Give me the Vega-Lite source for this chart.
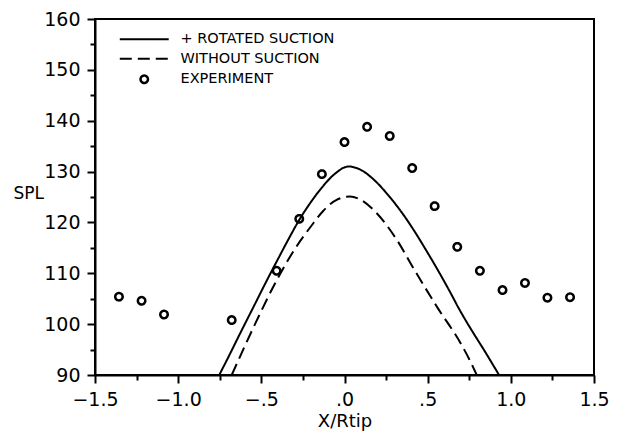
{
  "$schema": "https://vega.github.io/schema/vega-lite/v6.json",
  "width": 499,
  "height": 356,
  "autosize": {"type": "none"},
  "padding": {"left": 95, "top": 19, "right": 30, "bottom": 68},
  "background": "white",
  "config": {
    "font": "DejaVu Sans",
    "view": {"stroke": "black", "strokeWidth": 2},
    "axis": {
      "grid": false,
      "domainColor": "black",
      "domainWidth": 2,
      "tickColor": "black",
      "tickWidth": 2,
      "labelColor": "black",
      "labelFont": "DejaVu Sans",
      "labelFontSize": 19,
      "titleColor": "black",
      "titleFont": "DejaVu Sans",
      "titleFontWeight": "normal",
      "labelOverlap": false,
      "labelFlush": false,
      "labelBound": false
    }
  },
  "data": {
    "values": [
      {"series": "+ ROTATED SUCTION", "x": -0.753, "spl": 90},
      {"series": "+ ROTATED SUCTION", "x": -0.70, "spl": 93.4},
      {"series": "+ ROTATED SUCTION", "x": -0.618, "spl": 98.8},
      {"series": "+ ROTATED SUCTION", "x": -0.55, "spl": 103.2},
      {"series": "+ ROTATED SUCTION", "x": -0.47, "spl": 108.4},
      {"series": "+ ROTATED SUCTION", "x": -0.40, "spl": 112.8},
      {"series": "+ ROTATED SUCTION", "x": -0.34, "spl": 116.5},
      {"series": "+ ROTATED SUCTION", "x": -0.272, "spl": 120.5},
      {"series": "+ ROTATED SUCTION", "x": -0.20, "spl": 124.1},
      {"series": "+ ROTATED SUCTION", "x": -0.135, "spl": 126.9},
      {"series": "+ ROTATED SUCTION", "x": -0.06, "spl": 129.5},
      {"series": "+ ROTATED SUCTION", "x": 0.024, "spl": 131.0},
      {"series": "+ ROTATED SUCTION", "x": 0.10, "spl": 130.3},
      {"series": "+ ROTATED SUCTION", "x": 0.18, "spl": 128.3},
      {"series": "+ ROTATED SUCTION", "x": 0.272, "spl": 125.0},
      {"series": "+ ROTATED SUCTION", "x": 0.35, "spl": 121.7},
      {"series": "+ ROTATED SUCTION", "x": 0.418, "spl": 118.4},
      {"series": "+ ROTATED SUCTION", "x": 0.484, "spl": 114.9},
      {"series": "+ ROTATED SUCTION", "x": 0.558, "spl": 110.8},
      {"series": "+ ROTATED SUCTION", "x": 0.63, "spl": 106.6},
      {"series": "+ ROTATED SUCTION", "x": 0.699, "spl": 102.4},
      {"series": "+ ROTATED SUCTION", "x": 0.77, "spl": 98.5},
      {"series": "+ ROTATED SUCTION", "x": 0.839, "spl": 94.9},
      {"series": "+ ROTATED SUCTION", "x": 0.929, "spl": 90},
      {"series": "WITHOUT SUCTION", "x": -0.678, "spl": 90},
      {"series": "WITHOUT SUCTION", "x": -0.538, "spl": 100.0},
      {"series": "WITHOUT SUCTION", "x": -0.408, "spl": 108.6},
      {"series": "WITHOUT SUCTION", "x": -0.298, "spl": 114.8},
      {"series": "WITHOUT SUCTION", "x": -0.20, "spl": 119.3},
      {"series": "WITHOUT SUCTION", "x": -0.127, "spl": 122.3},
      {"series": "WITHOUT SUCTION", "x": -0.05, "spl": 124.4},
      {"series": "WITHOUT SUCTION", "x": 0.033, "spl": 125.1},
      {"series": "WITHOUT SUCTION", "x": 0.10, "spl": 124.4},
      {"series": "WITHOUT SUCTION", "x": 0.173, "spl": 122.5},
      {"series": "WITHOUT SUCTION", "x": 0.25, "spl": 119.6},
      {"series": "WITHOUT SUCTION", "x": 0.32, "spl": 116.3},
      {"series": "WITHOUT SUCTION", "x": 0.418, "spl": 110.8},
      {"series": "WITHOUT SUCTION", "x": 0.558, "spl": 103.3},
      {"series": "WITHOUT SUCTION", "x": 0.699, "spl": 96.2},
      {"series": "WITHOUT SUCTION", "x": 0.75, "spl": 93.1},
      {"series": "WITHOUT SUCTION", "x": 0.795, "spl": 90},
      {"series": "EXPERIMENT", "x": -1.356, "spl": 105.4},
      {"series": "EXPERIMENT", "x": -1.22, "spl": 104.6},
      {"series": "EXPERIMENT", "x": -1.085, "spl": 101.9},
      {"series": "EXPERIMENT", "x": -0.678, "spl": 100.8},
      {"series": "EXPERIMENT", "x": -0.408, "spl": 110.5},
      {"series": "EXPERIMENT", "x": -0.272, "spl": 120.7},
      {"series": "EXPERIMENT", "x": -0.136, "spl": 129.5},
      {"series": "EXPERIMENT", "x": 0.0, "spl": 135.8},
      {"series": "EXPERIMENT", "x": 0.136, "spl": 138.8},
      {"series": "EXPERIMENT", "x": 0.272, "spl": 137.0},
      {"series": "EXPERIMENT", "x": 0.407, "spl": 130.7},
      {"series": "EXPERIMENT", "x": 0.542, "spl": 123.2},
      {"series": "EXPERIMENT", "x": 0.678, "spl": 115.2},
      {"series": "EXPERIMENT", "x": 0.814, "spl": 110.5},
      {"series": "EXPERIMENT", "x": 0.95, "spl": 106.7},
      {"series": "EXPERIMENT", "x": 1.085, "spl": 108.1},
      {"series": "EXPERIMENT", "x": 1.22, "spl": 105.2},
      {"series": "EXPERIMENT", "x": 1.356, "spl": 105.3}
    ]
  },
  "encoding": {
    "x": {
      "field": "x", "type": "quantitative",
      "scale": {"domain": [-1.5, 1.5], "nice": false, "zero": false},
      "axis": {
        "title": "X/Rtip",
        "titleFontSize": 18,
        "titlePadding": 3,
        "values": [-1.5, -1.25, -1, -0.75, -0.5, -0.25, 0, 0.25, 0.5, 0.75, 1, 1.25, 1.5],
        "labelExpr": "abs(datum.value*2 - round(datum.value*2)) > 0.001 ? '' : (datum.value == 0 ? '.0' : (abs(datum.value) == 0.5 ? (datum.value < 0 ? '\u2212.5' : '.5') : format(datum.value, '.1f')))",
        "tickSize": {"condition": {"test": "abs(datum.value*2 - round(datum.value*2)) < 0.001", "value": 8}, "value": 5},
        "labelPadding": 7
      }
    },
    "y": {
      "field": "spl", "type": "quantitative",
      "scale": {"domain": [90, 160], "nice": false, "zero": false},
      "axis": {
        "title": "SPL",
        "titleFontSize": 17,
        "titleAngle": 0,
        "titleAlign": "left",
        "titleBaseline": "middle",
        "titleX": -82,
        "titleY": 174,
        "values": [90, 95, 100, 105, 110, 115, 120, 125, 130, 135, 140, 145, 150, 155, 160],
        "labelExpr": "datum.value % 10 == 0 ? format(datum.value, 'd') : ''",
        "tickSize": {"condition": {"test": "datum.value % 10 == 0", "value": 8}, "value": 5},
        "labelPadding": 7
      }
    },
    "strokeDash": {
      "field": "series", "type": "nominal",
      "scale": {
        "domain": ["+ ROTATED SUCTION", "WITHOUT SUCTION", "EXPERIMENT"],
        "range": [[1, 0], [12, 6], [1, 0]]
      },
      "legend": {
        "title": null,
        "orient": "none",
        "legendX": 42,
        "legendY": 13,
        "padding": 0,
        "symbolSize": 55,
        "symbolStrokeColor": "black",
        "symbolStrokeWidth": 2,
        "rowPadding": 4.5,
        "labelFont": "DejaVu Sans",
        "labelFontSize": 14.5,
        "labelColor": "black",
        "labelOffset": 29,
        "encode": {
          "symbols": {
            "update": {
              "shape": {"signal": "datum.label == 'EXPERIMENT' ? 'circle' : 'M-6.6,0H6.6'"},
              "strokeWidth": {"signal": "datum.label == 'EXPERIMENT' ? 2.5 : 2"},
              "fill": {"value": "transparent"},
              "stroke": {"value": "black"}
            }
          }
        }
      }
    }
  },
  "layer": [
    {
      "transform": [{"filter": "datum.series != 'EXPERIMENT'"}],
      "mark": {"type": "line", "color": "black", "strokeWidth": 2, "clip": true, "interpolate": "monotone"}
    },
    {
      "transform": [{"filter": "datum.series == 'EXPERIMENT'"}],
      "mark": {"type": "point", "shape": "circle", "filled": false, "color": "black", "strokeWidth": 2.5, "size": 55, "opacity": 1}
    }
  ]
}
